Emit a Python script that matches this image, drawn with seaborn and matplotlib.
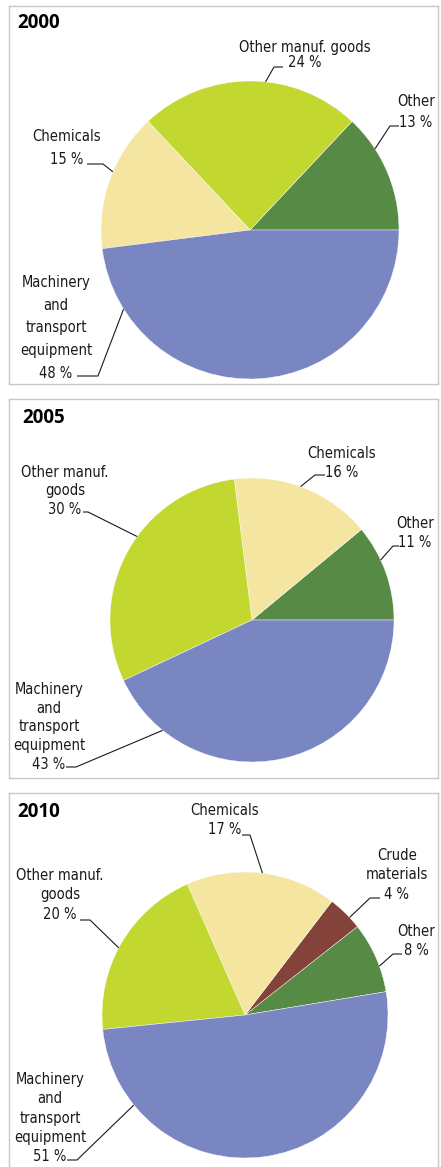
import numpy as np
import matplotlib.pyplot as plt
import seaborn as sns

# Data: export shares (%) by product group, in pie order (counter-clockwise)
years = ["2000", "2005", "2010"]

groups_2000 = ["Other", "Other manuf. goods", "Chemicals", "Machinery and transport equipment"]
shares_2000 = [13, 24, 15, 48]

groups_2005 = ["Other", "Chemicals", "Other manuf. goods", "Machinery and transport equipment"]
shares_2005 = [11, 16, 30, 43]

groups_2010 = ["Other", "Crude materials", "Chemicals", "Other manuf. goods", "Machinery and transport equipment"]
shares_2010 = [8, 4, 17, 20, 51]

group_colors = {
    "Other": "#568a45",
    "Crude materials": "#84433a",
    "Chemicals": "#f4e6a1",
    "Other manuf. goods": "#c2d730",
    "Machinery and transport equipment": "#7a86c2",
}

# Layout (pixels, origin top-left of the image)
W, H = 441, 1167
panels = {
    "2000": dict(box=(9, 6, 438, 384), center=(250, 230), r=149, start=0, title=(17, 23), ls=1.66,
                 labels={
                     "Other manuf. goods": dict(text="Other manuf. goods\n24 %", xy=(305, 55), ls=1.08,
                                                elbow=(274, 67), end=(283, 67), edge=84),
                     "Other": dict(text="Other\n13 %", xy=(416, 112), elbow=(390, 126), end=(399, 126), edge=33, ls=1.45),
                     "Chemicals": dict(text="Chemicals\n15 %", xy=(67, 148), elbow=(103, 164), end=(87, 164), edge=157,
                                       ls=1.59),
                     "Machinery and transport equipment": dict(text="Machinery\nand\ntransport\nequipment\n48 %",
                                                               xy=(56, 328), elbow=(98, 376), end=(77, 376), edge=212),
                 }),
    "2005": dict(box=(9, 399, 438, 778), center=(252, 620), r=142, start=0, title=(22, 418), ls=1.30,
                 labels={
                     "Chemicals": dict(text="Chemicals\n16 %", xy=(342, 463), elbow=(315, 475), end=(325, 475), edge=70),
                     "Other": dict(text="Other\n11 %", xy=(415, 533), elbow=(393, 546), end=(399, 546), edge=25),
                     "Other manuf. goods": dict(text="Other manuf.\ngoods\n30 %", xy=(65, 491), elbow=(88, 512),
                                                end=(83, 512), edge=144),
                     "Machinery and transport equipment": dict(text="Machinery\nand\ntransport\nequipment\n43 %",
                                                               xy=(49, 727), elbow=(76, 767), end=(66, 767), edge=231),
                 }),
    "2010": dict(box=(9, 793, 438, 1180), center=(245, 1015), r=143, start=9.4, title=(17, 812), ls=1.35,
                 labels={
                     "Chemicals": dict(text="Chemicals\n17 %", xy=(225, 820), elbow=(250, 835), end=(242, 835), edge=83),
                     "Crude materials": dict(text="Crude\nmaterials\n4 %", xy=(397, 875), elbow=(370, 898),
                                             end=(380, 898), edge=43),
                     "Other": dict(text="Other\n8 %", xy=(416, 941), elbow=(393, 954), end=(402, 954), edge=20),
                     "Other manuf. goods": dict(text="Other manuf.\ngoods\n20 %", xy=(60, 895), elbow=(90, 920),
                                                end=(80, 920), edge=152),
                     "Machinery and transport equipment": dict(text="Machinery\nand\ntransport\nequipment\n51 %",
                                                               xy=(50, 1118), elbow=(77, 1160), end=(67, 1160), edge=219),
                 }),
}

data = {
    "2000": (groups_2000, shares_2000),
    "2005": (groups_2005, shares_2005),
    "2010": (groups_2010, shares_2010),
}

sns.set_theme(style="white")
label_font = ["DejaVu Sans"]
ink = "#1a1a1a"

fig = plt.figure(figsize=(W / 100, H / 100), dpi=100)

for year in years:
    p = panels[year]
    left, top, right, bottom = p["box"]
    ax = fig.add_axes([left / W, 1 - bottom / H, (right - left) / W, (bottom - top) / H])
    groups, shares = data[year]
    cx, cy = p["center"]
    cy_up = H - cy
    ax.pie(shares, colors=[group_colors[g] for g in groups], startangle=p["start"],
           counterclock=True, center=(cx, cy_up), radius=p["r"], frame=True,
           wedgeprops=dict(edgecolor="white", linewidth=0.3))
    ax.set_xlim(left, right)
    ax.set_ylim(H - bottom, H - top)
    ax.set_aspect("auto")
    ax.set_xticks([])
    ax.set_yticks([])
    for s in ax.spines.values():
        s.set_color("#c8c8c8")
        s.set_linewidth(1.0)

    ax.text(p["title"][0], H - p["title"][1], year, fontsize=13.5, fontweight="bold",
            family=["Open Sans", "DejaVu Sans"], color="black", ha="left", va="center")

    for g in groups:
        lab = p["labels"][g]
        tx, ty = lab["xy"]
        ax.text(tx, H - ty, lab["text"], ha="center", va="center", multialignment="center",
                fontsize=10.5, family=label_font, fontstretch="condensed", color=ink,
                linespacing=lab.get("ls", p["ls"]))
        a = np.deg2rad(lab["edge"])
        ex, ey = cx + p["r"] * np.cos(a), cy_up + p["r"] * np.sin(a)
        (bx, by), (hx, hy) = lab["elbow"], lab["end"]
        ax.plot([ex, bx, hx], [ey, H - by, H - hy], color=ink, lw=0.8, solid_capstyle="butt")

fig.savefig("out.png", dpi=100)
